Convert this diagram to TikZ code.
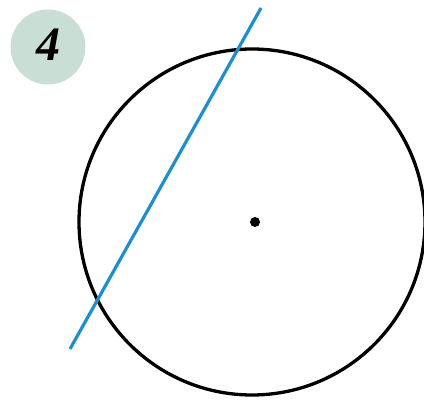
\documentclass[tikz,border=0pt]{standalone}
\usepackage{fontspec}
\setmainfont{Liberation Serif}
\definecolor{badge}{HTML}{C9DED4}
\definecolor{lineblue}{HTML}{1E8FCC}
\begin{document}
\begin{tikzpicture}[x=1pt,y=-1pt,
  badgestyle/.style={circle,fill=badge,minimum size=75pt,inner sep=0pt,font=\fontsize{50}{50}\selectfont\bfseries\itshape},
  circstyle/.style={draw=black,line width=3.3pt},
  secant/.style={draw=lineblue,line width=3.2pt}]
\useasboundingbox (0,0) rectangle (424,401);
\node[badgestyle] (b) at (48,47) {};
\node[font=\fontsize{48}{48}\selectfont\bfseries\itshape,inner sep=0pt] (t) at (49,45) {4};
\coordinate (o) at (252,222);
\draw[circstyle] (o) circle[radius=173];
\fill (255,222) circle[radius=5];
\coordinate (p) at (261,8);
\coordinate (q) at (70,349);
\draw[secant] (q) -- (p);
\end{tikzpicture}
\end{document}
